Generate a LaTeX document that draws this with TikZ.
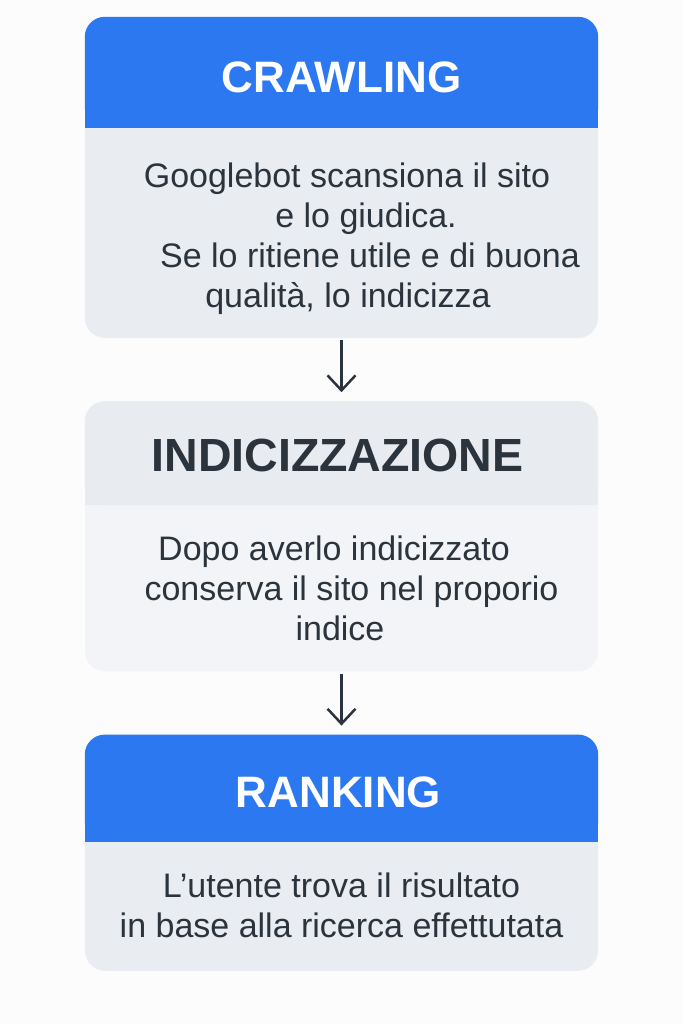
\documentclass[tikz,border=0pt]{standalone}
\usepackage{fontspec}
\setmainfont{Liberation Sans}
\usetikzlibrary{positioning, arrows.meta}

\definecolor{hdrblue}{HTML}{2C78F0}
\definecolor{bodygray}{HTML}{E9EDF2}
\definecolor{midgray}{HTML}{E8EBEF}
\definecolor{lightgray}{HTML}{F2F4F7}
\definecolor{inkdark}{HTML}{2B333D}

\begin{document}
\begin{tikzpicture}[x=1pt, y=-1pt, node distance=63pt,
        stepbox/.style={rectangle, rounded corners=20pt, minimum width=513pt, inner sep=0pt},
        headtext/.style={font=\bfseries\fontsize{44}{50}\selectfont, inner sep=0pt},
        bodytext/.style={font=\fontsize{34}{40}\selectfont, text=inkdark, align=center, inner sep=0pt},
        flow/.style={line width=2.5pt, draw=inkdark, -{Straight Barb[length=15pt, width=28pt, line width=2.5pt]},
                shorten <=2pt, shorten >=9pt}]
                \fill[white!98!gray] (0,0) rectangle (683,1024);
                \useasboundingbox (0,0) rectangle (683,1024);

                \node[stepbox, fill=bodygray, minimum height=321pt] (crawl) at (341.5,177.5) {};
                \node[stepbox, fill=lightgray, minimum height=270pt] (index) [below=of crawl] {};
                \node[stepbox, fill=bodygray, minimum height=236pt] (rank) [below=of index] {};

                % header bands, rounded on top only
                \foreach \b/\h/\c in {crawl/111/hdrblue, index/104/midgray, rank/107/hdrblue} {
                        \fill[\c, rounded corners=20pt] (\b.north west) rectangle ([yshift=-\h pt]\b.north east);
                        \fill[\c] ([yshift=-40pt]\b.north west) rectangle ([yshift=-\h pt]\b.north east);
                }

                \node[headtext, text=white] (crawltitle) at ([yshift=-60.5pt]crawl.north) {CRAWLING};
                \node[headtext, text=inkdark, font=\bfseries\fontsize{46.5}{52}\selectfont] (indextitle)
                        at ([xshift=-4pt, yshift=-54pt]index.north) {INDICIZZAZIONE};
                \node[headtext, text=white] (ranktitle) at ([xshift=-3pt, yshift=-58pt]rank.north) {RANKING};

                \node[bodytext] (crawltext) at ([xshift=5.5pt, yshift=-221.5pt]crawl.north)
                        {Googlebot scansiona il sito\\\hspace*{38pt}e lo giudica.\\
                         \hspace*{46pt}Se lo ritiene utile e di buona\\\hspace*{2pt}qualità, lo indicizza};
                \node[bodytext] (indextext) at ([xshift=-7.5pt, yshift=-187pt]index.north)
                        {Dopo averlo indicizzato\\\hspace*{35pt}conserva il sito nel proporio\\\hspace*{12pt}indice};
                \node[bodytext] (ranktext) at ([yshift=-171pt]rank.north)
                        {L’utente trova il risultato\\in base alla ricerca effettutata};

                \foreach \i/\j in {crawl/index, index/rank} {
                        \draw[flow] (\i) -- (\j);
                }
        \end{tikzpicture}
\end{document}
